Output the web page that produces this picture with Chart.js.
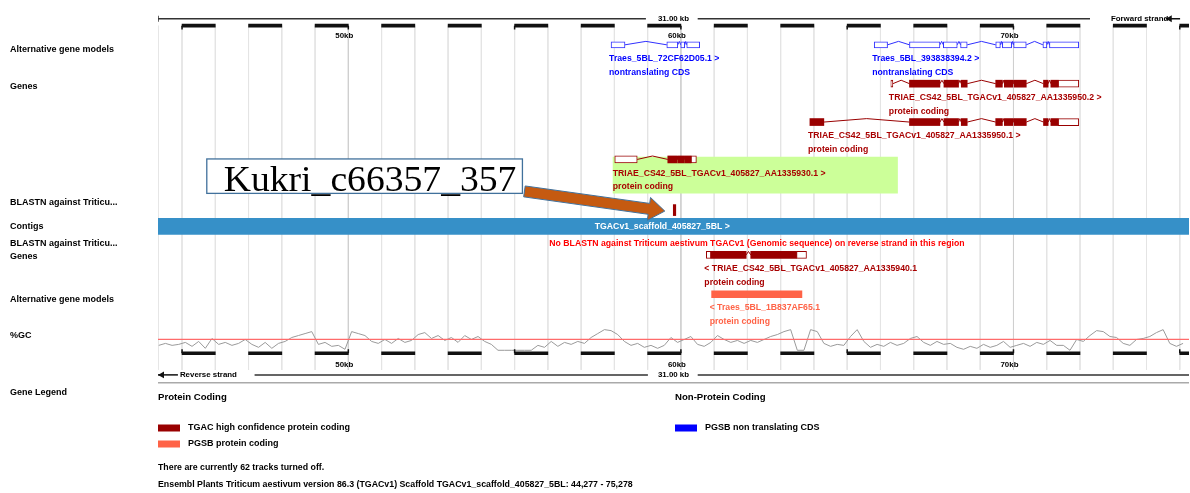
<!DOCTYPE html>
<html>
<head>
<meta charset="utf-8">
<title>TGACv1_scaffold_405827_5BL: 44,277 - 75,278</title>
<script src="https://cdn.jsdelivr.net/npm/chart.js@4.4.1/dist/chart.umd.min.js"></script>
<style>
  html, body { margin: 0; padding: 0; background: #ffffff; overflow: hidden; }
  #view { display: block; }
</style>
</head>
<body>
<canvas id="view" width="1193" height="493"></canvas>
<script>
// ---------- region shown (kb along TGACv1_scaffold_405827_5BL) ----------
const regionKb = [44.277, 75.278];
const regionLabel = '31.00 kb';

// ---------- forward strand: PGSB alternative gene models (non translating CDS) ----------
const traes72CF62D05Exons = [[57.900, 58.319], [59.576, 59.906], [59.996, 60.115], [60.175, 60.564]];
const traes393838394Exons = [[65.813, 66.214], [66.873, 67.789], [67.891, 68.310], [68.409, 68.609],
  [69.466, 69.606], [69.666, 69.945], [70.005, 70.385], [70.885, 71.004], [71.082, 71.963]];

// ---------- forward strand: TGAC genes (coding blocks / UTR blocks) ----------
const aa1335950v2Cds = [[66.873, 67.789], [67.909, 68.349], [68.430, 68.609], [69.466, 69.666],
  [69.726, 69.986], [70.026, 70.385], [70.903, 71.043], [71.124, 71.343]];
const aa1335950v2Utr = [[66.313, 66.373], [71.343, 71.963]];
const aa1335950v1Cds = [[63.879, 64.298], [66.873, 67.789], [67.909, 68.349], [68.430, 68.609],
  [69.466, 69.666], [69.726, 69.986], [70.026, 70.385], [70.903, 71.043], [71.124, 71.343]];
const aa1335950v1Utr = [[71.343, 71.963]];
const aa1335930v1Cds = [[59.606, 59.885], [59.906, 60.106], [60.124, 60.304]];
const aa1335930v1Utr = [[58.011, 58.687], [60.304, 60.466]];

// ---------- reverse strand ----------
const aa1335940v1Cds = [[60.903, 61.963], [62.100, 63.478]];
const aa1335940v1Utr = [[60.765, 60.903], [63.478, 63.777]];
const traes1B837AF65Cds = [[60.924, 63.639]];

// ---------- other features ----------
const blastHitKb = [59.771, 59.846];
const contigKb = [44.277, 75.278];
const highlightKb = [57.960, 66.514];
const contigName = 'TGACv1_scaffold_405827_5BL >';
const contigLabelKb = 57.41;
const noBlastText = 'No BLASTN against Triticum aestivum TGACv1 (Genomic sequence) on reverse strand in this region';
const noBlastLabelKb = 56.044;
const markerName = 'Kukri_c66357_357';

// ---------- genes table ----------
const geneNames = ['Traes_5BL_72CF62D05.1', 'Traes_5BL_393838394.2',
  'TRIAE_CS42_5BL_TGACv1_405827_AA1335950.2', 'TRIAE_CS42_5BL_TGACv1_405827_AA1335950.1',
  'TRIAE_CS42_5BL_TGACv1_405827_AA1335930.1', 'TRIAE_CS42_5BL_TGACv1_405827_AA1335940.1',
  'Traes_5BL_1B837AF65.1'];
const geneBiotypes = ['nontranslating CDS', 'nontranslating CDS', 'protein coding', 'protein coding',
  'protein coding', 'protein coding', 'protein coding'];
const geneStrands = [1, 1, 1, 1, 1, -1, -1];
const geneSources = ['pgsbNT', 'pgsbNT', 'tgac', 'tgac', 'tgac', 'tgac', 'pgsb'];
const geneCoding = [[], [], aa1335950v2Cds, aa1335950v1Cds, aa1335930v1Cds, aa1335940v1Cds, traes1B837AF65Cds];
const geneNonCoding = [traes72CF62D05Exons, traes393838394Exons, aa1335950v2Utr, aa1335950v1Utr,
  aa1335930v1Utr, aa1335940v1Utr, []];

// ---------- scale bar ----------
const rulerBlocksKb = [[45, 46], [47, 48], [49, 50], [51, 52], [53, 54], [55, 56], [57, 58], [59, 60],
  [61, 62], [63, 64], [65, 66], [67, 68], [69, 70], [71, 72], [73, 74], [75, 76]];
const rulerMarksKb = [45, 50, 55, 60, 65, 70, 75];
const rulerLabelKb = [50, 60, 70];
const rulerLabels = ['50kb', '60kb', '70kb'];
const gridKb = [44.277, 45, 46, 47, 48, 49, 50, 51, 52, 53, 54, 55, 56, 57, 58, 59, 60,
  61, 62, 63, 64, 65, 66, 67, 68, 69, 70, 71, 72, 73, 74, 75];

// ---------- %GC, windows of 0.2 kb from 44.3 kb ----------
const gcWindowStartKb = 44.3;
const gcWindowKb = 0.2;
const gcPercent = [34, 38, 34, 36, 40, 32, 42, 28, 48, 36, 40, 34, 38, 46, 36, 30, 40, 28, 38, 42,
  50, 54, 58, 62, 36, 40, 32, 34, 26, 62, 58, 54, 42, 38, 46, 38, 48, 40, 44, 56,
  60, 48, 54, 44, 50, 40, 54, 46, 52, 42, 36, 24, 24, 24, 24, 24, 24, 34, 30, 42,
  32, 40, 36, 42, 38, 50, 58, 66, 64, 56, 42, 34, 38, 30, 34, 28, 34, 50, 40, 46,
  52, 36, 32, 40, 54, 46, 40, 44, 38, 44, 40, 46, 52, 56, 62, 66, 24, 24, 66, 62,
  38, 32, 36, 34, 52, 66, 42, 30, 36, 32, 40, 34, 38, 48, 52, 40, 34, 42, 36, 38,
  30, 26, 32, 28, 36, 30, 34, 42, 30, 34, 38, 32, 40, 36, 44, 34, 34, 24, 46, 42,
  54, 64, 62, 52, 50, 38, 34, 46, 48, 52, 60, 66, 38, 32, 38];
const gcMean = 46;

// ---------- track names and legend ----------
const trackNames = ['Alternative gene models', 'Genes', 'BLASTN against Triticu...', 'Contigs',
  'BLASTN against Triticu...', 'Genes', 'Alternative gene models', '%GC', 'Gene Legend'];
const legendHeaders = ['Protein Coding', 'Non-Protein Coding'];
const legendItems = ['TGAC high confidence protein coding', 'PGSB protein coding', 'PGSB non translating CDS'];
const footerLines = ['There are currently 62 tracks turned off.',
  'Ensembl Plants Triticum aestivum version 86.3 (TGACv1) Scaffold TGACv1_scaffold_405827_5BL: 44,277 - 75,278'];

// ================= layout & style =================
const SANS = "'Liberation Sans', Arial, Helvetica, sans-serif";
const SERIF = "'Liberation Serif', 'Times New Roman', serif";
const colours = {
  tgac: '#990000', tgacText: '#a80000', pgsb: '#ff6347', pgsbNT: '#3030ff', pgsbNTText: '#0000ff',
  contig: '#3690c8', highlight: '#ccff99', grid: '#e4e4e4', grid10: '#cfcfcf', gc: '#9a9a9a',
  gcMean: '#ff6b6b', noBlast: '#ff0000', callout: '#41719c', arrow: '#c55a11'
};
// vertical positions of each track row (y scale runs top-down over the canvas height)
const rows = {
  scaleTop: 15, rulerTop: 22, rulerTopLabel: 32, genes: [41.5, 41.5, 81, 120, 158, 255, 295],
  highlight: 174, blastHit: 209.5, contig: 226, noBlast: 244, gcMean: 341,
  rulerBottom: 355, rulerBottomLabel: 366.5, scaleBottom: 377, footerRule: 385,
  gridTop: 22, gridBottom: 372, trackNames: [46, 84, 202, 226.5, 243, 257, 300, 337, 395]
};
const hatRise = 3.5;
const CANVAS_H = 493;
const gcPxPerPercent = 0.5;

// ================= datasets =================
function bars(blocks, row, thick, fill, edge, order) {
  return {
    type: 'bar', indexAxis: 'y', grouped: false, xAxisID: 'x', yAxisID: 'y',
    data: blocks.map(b => ({ x: b, y: row })),
    barThickness: thick, backgroundColor: fill, borderColor: edge || fill,
    borderWidth: edge ? 1 : 0, borderSkipped: false, order
  };
}
function polyline(points, colour, width, order, axis) {
  return {
    type: 'line', xAxisID: 'x', yAxisID: axis || 'y', data: points,
    borderColor: colour, borderWidth: width, pointRadius: 0, pointHoverRadius: 0,
    tension: 0, fill: false, spanGaps: false, order
  };
}
function hats(blocks, row) {
  const sorted = blocks.slice().sort((a, b) => a[0] - b[0]);
  const pts = [];
  for (let i = 0; i < sorted.length - 1; i++) {
    const a = sorted[i][1], b = sorted[i + 1][0];
    if (b - a > 0.004) {
      pts.push({ x: a, y: row }, { x: (a + b) / 2, y: row - hatRise }, { x: b, y: row }, { x: b, y: null });
    }
  }
  return pts;
}
function verticals(kbs, top, bottom) {
  const pts = [];
  kbs.forEach(k => pts.push({ x: k, y: top }, { x: k, y: bottom }, { x: k, y: null }));
  return pts;
}

const datasets = [];
// background grid: every kb, slightly darker every 10 kb
datasets.push(polyline(verticals(gridKb.filter(k => k % 10 !== 0), rows.gridTop, rows.gridBottom), colours.grid, 1, 100));
datasets.push(polyline(verticals(gridKb.filter(k => k % 10 === 0), rows.gridTop, rows.gridBottom), colours.grid10, 1, 99));
// highlighted gene
datasets.push(bars([highlightKb], rows.highlight, 36, colours.highlight, null, 90));

// genes
geneNames.forEach((name, i) => {
  const row = rows.genes[i];
  const src = geneSources[i];
  const all = geneCoding[i].concat(geneNonCoding[i]);
  if (src === 'pgsbNT') {
    datasets.push(polyline(hats(all, row), colours.pgsbNT, 1, 20));
    datasets.push(bars(geneNonCoding[i], row, 6, '#ffffff', colours.pgsbNT, 10));
  } else if (src === 'tgac') {
    datasets.push(polyline(hats(all, row), colours.tgac, 1, 20));
    datasets.push(bars(geneNonCoding[i], row, 7, '#ffffff', colours.tgac, 10));
    datasets.push(bars(geneCoding[i], row, 7, colours.tgac, null, 9));
  } else {
    datasets.push(bars(geneCoding[i], row, 7, colours.pgsb, null, 9));
  }
});

// BLASTN hit and contig
datasets.push(bars([blastHitKb], rows.blastHit, 11, colours.tgac, null, 8));
datasets.push(bars([contigKb], rows.contig, 16, colours.contig, null, 8));

// %GC profile and its mean
const gcPoints = gcPercent.map((v, i) => ({ x: gcWindowStartKb + i * gcWindowKb, y: v }));
datasets.push(polyline(gcPoints, colours.gc, 1, 6, 'gc'));
datasets.push(polyline([{ x: regionKb[0], y: gcMean }, { x: regionKb[1], y: gcMean }], colours.gcMean, 1.2, 5, 'gc'));

// scale bars (top and bottom)
datasets.push(bars(rulerBlocksKb, rows.rulerTop, 3, '#111111', null, 4));
datasets.push(bars(rulerBlocksKb, rows.rulerBottom, 3, '#111111', null, 4));
datasets.push(polyline(verticals(rulerMarksKb, rows.rulerTop, rows.rulerTop + 4), '#111111', 1.5, 4));
datasets.push(polyline(verticals(rulerMarksKb, rows.rulerBottom, rows.rulerBottom - 4), '#111111', 1.5, 4));

// region length lines with a gap for the "31.00 kb" caption
const topLineKb = [[regionKb[0], 58.948], [60.505, 72.301]];
const bottomLineKb = [[47.181, 59.008], [60.505, regionKb[1]]];
const strandArrowKb = [74.700, 44.397];
const strandStemKb = [[74.580, 75.010], [regionKb[0], 44.876]];
function segs(list, row) {
  const pts = [];
  list.forEach(s => pts.push({ x: s[0], y: row }, { x: s[1], y: row }, { x: s[1], y: null }));
  return pts;
}
datasets.push(polyline(segs(topLineKb, rows.scaleTop), '#333333', 1.5, 3));
datasets.push(polyline(verticals([regionKb[0]], rows.scaleTop - 3, rows.scaleTop + 3), '#333333', 1.5, 3));
datasets.push(polyline(segs(bottomLineKb, rows.scaleBottom), '#333333', 1.5, 3));
datasets.push(polyline(segs([strandStemKb[0]], rows.scaleTop), '#111111', 1.5, 3));
datasets.push(polyline(segs([strandStemKb[1]], rows.scaleBottom), '#111111', 1.5, 3));
datasets.push({
  type: 'line', xAxisID: 'x', yAxisID: 'y', showLine: false, order: 2,
  data: [{ x: strandArrowKb[0], y: rows.scaleTop }, { x: strandArrowKb[1], y: rows.scaleBottom }],
  pointStyle: 'triangle', rotation: 270, pointRadius: 4, pointHoverRadius: 4,
  pointBackgroundColor: '#111111', pointBorderColor: '#111111', pointBorderWidth: 0
});
// rule under the view
datasets.push(polyline(segs([[regionKb[0], regionKb[1]]], rows.footerRule), '#aaaaaa', 1.5, 3));

// ================= text, legend and callout =================
const textPlugin = {
  id: 'ensemblText',
  afterDatasetsDraw(chart) {
    const ctx = chart.ctx;
    const X = v => chart.scales.x.getPixelForValue(v);
    const Y = v => chart.scales.y.getPixelForValue(v);
    const put = (s, x, y, font, colour, align) => {
      ctx.font = font; ctx.fillStyle = colour; ctx.textAlign = align || 'left'; ctx.fillText(s, x, y);
    };
    const fTrack = `bold 9px ${SANS}`, fGene = `bold 8.7px ${SANS}`, fRuler = `bold 7.9px ${SANS}`;
    ctx.save();
    ctx.textBaseline = 'middle';

    // track names in the left margin
    trackNames.forEach((t, i) => put(t, 10, Y(rows.trackNames[i]), fTrack, '#000000'));

    // scale bar captions
    const mid = (regionKb[0] + regionKb[1]) / 2;
    put(regionLabel, X(mid), Y(rows.scaleTop), fRuler, '#000000', 'center');
    put(regionLabel, X(mid), Y(rows.scaleBottom), fRuler, '#000000', 'center');
    put('Forward strand', X(72.930), Y(rows.scaleTop), fRuler, '#000000');
    put('Reverse strand', X(44.936), Y(rows.scaleBottom), fRuler, '#000000');
    rulerLabelKb.forEach((k, i) => {
      put(rulerLabels[i], X(k) - 4, Y(rows.rulerTopLabel), fRuler, '#000000', 'center');
      put(rulerLabels[i], X(k) - 4, Y(rows.rulerBottomLabel), fRuler, '#000000', 'center');
    });

    // gene captions
    geneNames.forEach((name, i) => {
      const all = geneCoding[i].concat(geneNonCoding[i]);
      const start = Math.min(...all.map(b => b[0]));
      const colour = geneSources[i] === 'pgsbNT' ? colours.pgsbNTText
        : geneSources[i] === 'pgsb' ? colours.pgsb : colours.tgacText;
      const label = geneStrands[i] > 0 ? name + ' >' : '< ' + name;
      const x = X(start) - 2, row = rows.genes[i];
      put(label, x, Y(row + 14), fGene, colour);
      put(geneBiotypes[i], x, Y(row + 28), fGene, colour);
    });

    // contig and empty-track captions
    put(contigName, X(contigLabelKb), Y(rows.contig), fGene, '#ffffff');
    put(noBlastText, X(noBlastLabelKb), Y(rows.noBlast), fGene, colours.noBlast);

    // legend
    const fHead = `bold 9.6px ${SANS}`, fItem = `bold 9px ${SANS}`;
    put(legendHeaders[0], 158, 397, fHead, '#000000');
    put(legendHeaders[1], 675, 397, fHead, '#000000');
    const swatches = [[158, 428, colours.tgac], [158, 444, colours.pgsb], [675, 428, '#0000ff']];
    swatches.forEach((s, i) => {
      ctx.fillStyle = s[2];
      ctx.fillRect(s[0], s[1] - 3.5, 22, 7);
      put(legendItems[i], s[0] + 30, s[1], fItem, '#000000');
    });
    put(footerLines[0], 158, 468, `bold 8.8px ${SANS}`, '#000000');
    put(footerLines[1], 158, 485, `bold 8.8px ${SANS}`, '#000000');

    // marker callout pointing at the BLASTN hit
    const bx0 = X(45.744), bx1 = X(55.235), by0 = Y(157.5), by1 = Y(192.5);
    ctx.fillStyle = '#ffffff';
    ctx.fillRect(bx0, by0, bx1 - bx0, by1 - by0);
    ctx.strokeStyle = colours.callout; ctx.lineWidth = 1.3;
    ctx.strokeRect(bx0, by0, bx1 - bx0, by1 - by0);
    ctx.font = `35px ${SERIF}`; ctx.textAlign = 'left'; ctx.textBaseline = 'alphabetic';
    const w = ctx.measureText(markerName).width;
    const target = (bx1 - bx0) - 23;
    ctx.save();
    ctx.translate(bx0 + 17, Y(190.5));
    ctx.scale(target / w, 1);
    ctx.fillStyle = '#000000';
    ctx.fillText(markerName, 0, 0);
    ctx.restore();

    // block arrow
    const tx = bx1 + 2, ty = Y(190.5);
    const px = X(blastHitKb[0]) - 8.5, py = Y(rows.blastHit + 1);
    const dx = px - tx, dy = py - ty, len = Math.hypot(dx, dy);
    const ux = dx / len, uy = dy / len, nx = -uy, ny = ux;
    const shaft = 5.5, head = 11.5, headLen = 16;
    const hx = px - ux * headLen, hy = py - uy * headLen;
    ctx.beginPath();
    ctx.moveTo(tx + nx * shaft, ty + ny * shaft);
    ctx.lineTo(hx + nx * shaft, hy + ny * shaft);
    ctx.lineTo(hx + nx * head, hy + ny * head);
    ctx.lineTo(px, py);
    ctx.lineTo(hx - nx * head, hy - ny * head);
    ctx.lineTo(hx - nx * shaft, hy - ny * shaft);
    ctx.lineTo(tx - nx * shaft, ty - ny * shaft);
    ctx.closePath();
    ctx.fillStyle = colours.arrow; ctx.fill();
    ctx.strokeStyle = colours.callout; ctx.lineWidth = 1; ctx.stroke();

    ctx.restore();
  }
};

// %GC axis: mean value sits on its track row, gcPxPerPercent pixels per percent
const gcRange = CANVAS_H / gcPxPerPercent;
const gcMax = gcMean + rows.gcMean / gcPxPerPercent;

new Chart(document.getElementById('view'), {
  type: 'bar',
  data: { datasets },
  plugins: [textPlugin],
  options: {
    responsive: false,
    animation: false,
    events: [],
    layout: { padding: { left: 158, right: 0, top: 0, bottom: 0 } },
    plugins: { legend: { display: false }, tooltip: { enabled: false } },
    scales: {
      x: { type: 'linear', min: regionKb[0], max: regionKb[1], display: false, offset: false },
      y: { type: 'linear', min: 0, max: CANVAS_H, reverse: true, display: false, offset: false, beginAtZero: false },
      gc: { type: 'linear', axis: 'y', min: gcMax - gcRange, max: gcMax, display: false, offset: false }
    }
  }
});
</script>
</body>
</html>
